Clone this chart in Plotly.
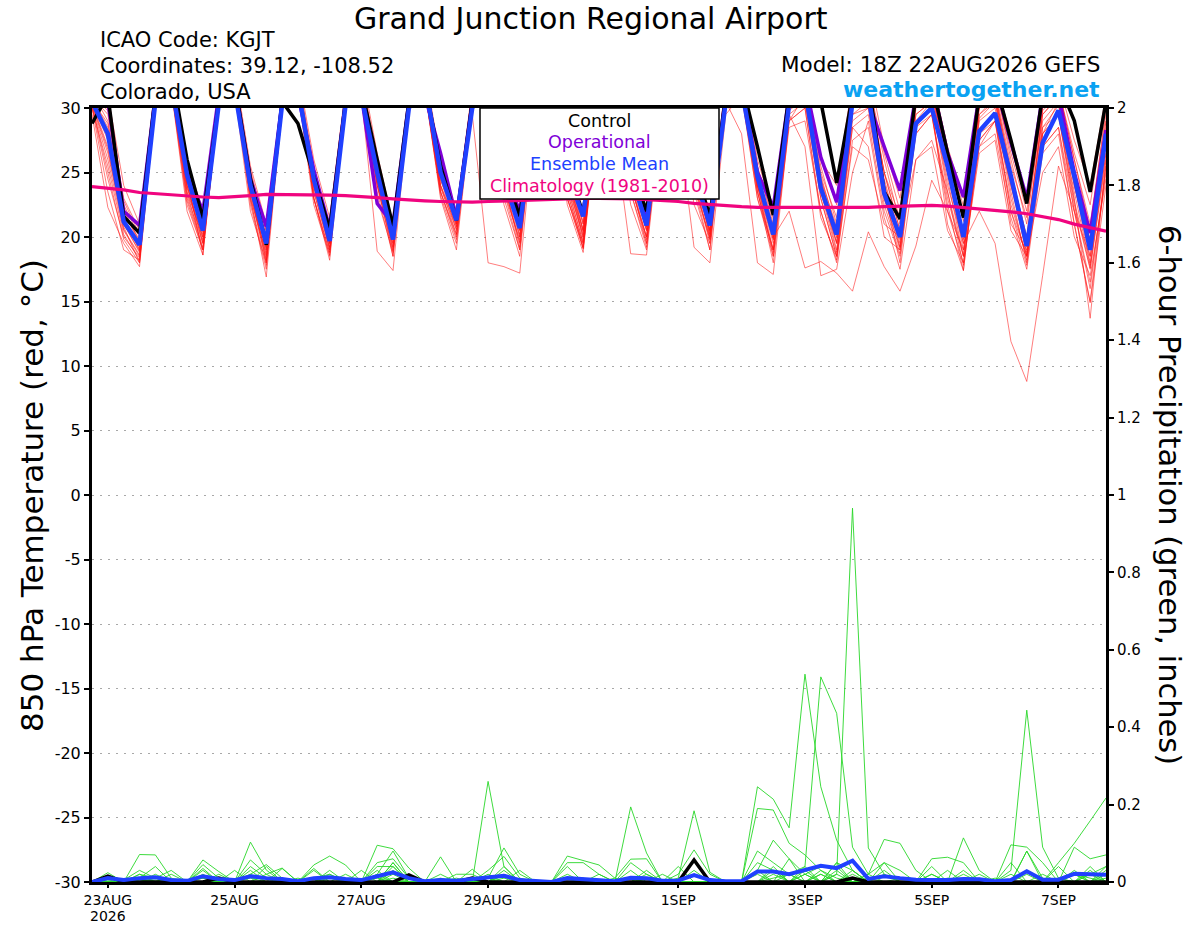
import pandas as pd
import plotly.graph_objects as go

# ---------------- time axis (GEFS 18Z 22AUG2026 run, 6-hourly, 384 h) ----------------
run_start = "2026-08-22 18:00"
n_steps = 65
times = pd.date_range(run_start, periods=n_steps, freq="6h")

tick_dates = ["2026-08-23", "2026-08-25", "2026-08-27", "2026-08-29",
              "2026-09-01", "2026-09-03", "2026-09-05", "2026-09-07"]
tick_labels = ["23AUG", "25AUG", "27AUG", "29AUG", "1SEP", "3SEP", "5SEP", "7SEP"]
year_label = "2026"

temp_ticks = [30, 25, 20, 15, 10, 5, 0, -5, -10, -15, -20, -25, -30]
temp_tick_labels = ["30", "25", "20", "15", "10", "5", "0", "-5", "-10", "-15", "-20", "-25", "-30"]
precip_ticks = [0, 0.2, 0.4, 0.6, 0.8, 1.0, 1.2, 1.4, 1.6, 1.8, 2.0]
precip_tick_labels = ["0", "0.2", "0.4", "0.6", "0.8", "1", "1.2", "1.4", "1.6", "1.8", "2"]

# ---------------- 850 hPa temperature (deg C) ----------------
# layout of each list: 18Z,00Z,06Z | then (12Z,18Z,00Z,06Z) x 15 days | 12Z,18Z
ens_mean_t = [30.5, 28.0, 21.2,
              19.4, 30.5, 32.0, 24.8, 20.5, 30.3, 31.5, 24.0, 19.5, 30.3, 31.5, 24.5,
              19.7, 30.2, 31.0, 25.0, 19.8, 30.0, 32.0, 25.0, 21.3, 30.0, 32.0, 24.5,
              20.7, 30.5, 32.0, 25.0, 21.6, 31.0, 32.0, 25.0, 20.9, 30.5, 32.0, 25.0,
              20.9, 30.5, 31.5, 24.7, 20.2, 30.3, 31.5, 23.8, 20.2, 30.5, 31.0, 23.4,
              20.0, 28.8, 30.0, 25.5, 20.0, 28.2, 29.6, 24.7, 19.3, 27.3, 29.8, 24.7,
              19.0, 28.0]
control_t = [28.8, 31.0, 21.6,
             20.3, 31.0, 33.0, 26.0, 21.4, 30.5, 32.0, 24.5, 19.4, 30.5, 28.8, 24.7,
             20.6, 30.5, 31.5, 26.0, 20.8, 30.5, 32.0, 25.5, 21.3, 30.5, 32.0, 25.0,
             21.6, 30.5, 32.0, 25.5, 21.8, 31.0, 32.0, 25.5, 22.0, 31.0, 32.0, 25.5,
             21.6, 31.0, 32.0, 27.0, 21.7, 31.0, 32.0, 30.5, 24.2, 31.0, 32.0, 23.5,
             21.4, 31.0, 32.0, 26.5, 21.5, 31.0, 32.0, 27.5, 22.6, 31.0, 32.0, 29.0,
             23.5, 30.5]
operational_t = [31.0, 30.5, 22.0,
                 20.9, 31.0, 32.0, 25.0, 22.0, 31.0, 32.0, 24.5, 20.8, 30.5, 31.0, 25.2,
                 20.7, 30.5, 31.0, 22.6, 21.0, 30.5, 31.0, 26.5, 21.5, 30.5, 32.0, 25.0,
                 22.0, 30.5, 32.0, 25.0, 21.8, 31.0, 32.0, 25.0, 21.5, 31.0, 32.0, 25.0,
                 21.3, 31.0, 32.0, 25.0, 22.3, 31.0, 32.0, 26.2, 22.7, 31.0, 30.5, 27.0,
                 23.6, 31.0, 32.0, 26.5, 23.1, 31.0, 32.0, 27.3, 23.0, 31.0, 31.0, 25.0,
                 20.3, 28.3]
climatology_t = [23.9, 23.8, 23.65,
                 23.45, 23.35, 23.25, 23.15, 23.1, 23.05, 23.1, 23.2, 23.3, 23.3, 23.3, 23.3,
                 23.25, 23.2, 23.15, 23.05, 22.95, 22.85, 22.8, 22.75, 22.7, 22.7, 22.75, 22.8,
                 22.85, 22.9, 22.95, 23.0, 23.0, 23.0, 23.0, 22.95, 22.9, 22.85, 22.75, 22.6,
                 22.5, 22.4, 22.35, 22.3, 22.3, 22.25, 22.25, 22.25, 22.25, 22.25, 22.3, 22.35,
                 22.4, 22.45, 22.45, 22.4, 22.3, 22.2, 22.1, 21.95, 21.8, 21.6, 21.35, 21.0,
                 20.7, 20.45]

t_m01 = [30.5, 27.5, 21.0, 18.8, 31.0, 32.5, 24.0, 19.8, 30.8, 32.0, 23.5, 18.5, 30.5, 31.5, 24.5,
         19.0, 30.6, 31.8, 25.0, 19.5, 30.2, 32.2, 24.0, 20.8, 30.4, 32.0, 25.5, 20.0, 30.8, 32.4, 24.0,
         20.2, 31.0, 32.0, 24.8, 20.5, 30.6, 31.5, 25.5, 20.0, 31.2, 31.8, 24.0, 19.5, 30.4, 31.0, 24.0,
         19.6, 30.8, 31.5, 23.0, 19.2, 29.0, 30.5, 25.0, 19.5, 29.5, 30.8, 24.0, 18.8, 28.5, 30.2, 24.5,
         18.5, 27.5]
t_m02 = [29.5, 22.3, 19.5, 17.7, 30.2, 31.5, 22.0, 18.6, 30.5, 31.8, 22.5, 17.5, 30.0, 32.0, 23.0,
         18.5, 30.4, 31.0, 24.0, 18.9, 30.8, 31.5, 23.5, 19.8, 30.2, 31.8, 24.0, 19.5, 30.6, 32.0, 23.0,
         19.1, 30.8, 31.5, 24.0, 19.8, 30.2, 31.0, 24.5, 19.5, 30.8, 31.5, 23.5, 18.8, 30.2, 30.5, 23.0,
         18.5, 29.5, 30.0, 22.5, 18.7, 28.5, 30.2, 24.5, 18.5, 29.0, 30.0, 23.0, 18.2, 28.0, 29.5, 23.5,
         17.8, 26.5]
t_m03 = [31.0, 30.0, 23.0, 20.5, 31.5, 33.0, 25.5, 21.2, 31.2, 32.5, 25.0, 20.5, 31.0, 32.4, 25.5,
         20.8, 31.2, 32.5, 26.0, 20.5, 31.0, 32.8, 25.5, 21.8, 31.2, 32.5, 26.5, 21.2, 31.5, 33.0, 25.5,
         21.0, 31.5, 32.8, 25.5, 21.5, 31.2, 32.5, 26.0, 21.3, 31.8, 32.5, 25.5, 21.0, 31.2, 32.0, 25.0,
         21.5, 31.5, 32.0, 26.0, 21.0, 31.0, 32.0, 26.5, 21.2, 31.2, 32.0, 26.0, 21.0, 30.5, 31.5, 26.0,
         20.5, 30.0]
t_m04 = [30.2, 26.0, 20.5, 18.5, 30.8, 32.0, 23.5, 20.0, 30.5, 31.5, 24.5, 19.0, 30.8, 32.0, 24.0,
         19.5, 30.5, 31.5, 24.5, 20.0, 30.6, 31.8, 25.0, 21.0, 30.8, 32.2, 24.5, 20.5, 30.5, 31.8, 25.0,
         20.0, 30.6, 32.0, 25.0, 21.0, 30.8, 32.0, 25.0, 20.5, 30.5, 31.5, 24.5, 20.0, 22.0, 17.6, 18.1,
         17.2, 15.8, 20.4, 17.7, 15.8, 19.3, 24.4, 22.0, 19.0, 27.0, 29.0, 24.0, 19.5, 28.0, 30.5, 24.0,
         19.0, 28.0]
t_m05 = [30.8, 28.5, 21.5, 19.0, 31.0, 32.2, 24.5, 20.2, 30.8, 32.0, 24.0, 19.0, 30.5, 31.8, 24.0,
         19.5, 30.8, 32.0, 24.5, 19.2, 30.5, 31.5, 25.0, 21.0, 30.8, 32.0, 25.0, 20.5, 30.6, 32.0, 24.5,
         20.0, 31.0, 32.2, 25.0, 20.8, 30.8, 31.8, 24.5, 20.5, 31.0, 32.0, 24.5, 20.2, 30.5, 31.5, 24.5,
         20.0, 30.5, 31.5, 24.5, 20.0, 29.5, 30.5, 24.0, 19.5, 22.0, 19.5, 11.9, 8.8, 17.0, 25.5, 22.0,
         18.5, 27.0]
t_m06 = [30.4, 27.0, 21.0, 18.9, 30.5, 32.0, 24.0, 19.5, 30.6, 31.8, 23.0, 18.8, 30.4, 31.5, 23.5,
         19.2, 30.5, 31.5, 24.0, 20.0, 30.6, 32.0, 24.5, 20.5, 29.5, 18.0, 17.7, 17.2, 30.0, 32.0, 24.0,
         19.5, 30.5, 31.8, 24.0, 20.0, 30.5, 31.5, 25.0, 20.2, 30.8, 31.8, 24.0, 19.8, 30.2, 31.0, 24.0,
         19.0, 30.0, 31.0, 24.0, 19.5, 30.0, 31.0, 25.0, 19.0, 29.5, 30.5, 24.5, 18.5, 29.0, 30.5, 23.0,
         13.7, 26.0]
t_m07 = [31.2, 29.0, 22.0, 19.5, 31.2, 32.5, 25.0, 21.0, 31.0, 32.2, 24.5, 20.0, 30.8, 32.0, 25.0,
         20.2, 31.0, 32.2, 25.0, 20.5, 30.8, 32.0, 25.5, 21.5, 31.0, 32.5, 25.0, 21.0, 31.0, 32.5, 25.5,
         20.5, 31.2, 32.5, 25.0, 21.0, 31.0, 32.0, 25.5, 21.0, 30.5, 28.0, 18.0, 17.1, 29.0, 31.0, 24.0,
         19.5, 30.2, 31.5, 25.0, 20.5, 30.5, 31.5, 25.5, 20.5, 30.0, 31.2, 25.0, 20.0, 29.5, 31.0, 25.0,
         19.5, 29.0]
t_m08 = [30.6, 28.0, 21.2, 19.2, 30.8, 32.0, 24.0, 20.0, 30.5, 31.6, 24.0, 19.2, 30.6, 32.0, 24.5,
         19.8, 30.8, 32.0, 24.5, 19.5, 30.5, 31.5, 24.0, 21.0, 30.6, 32.0, 24.0, 20.0, 30.5, 32.0, 24.5,
         19.8, 30.0, 28.0, 18.7, 18.6, 30.0, 31.5, 24.0, 20.0, 30.5, 31.5, 24.5, 19.8, 30.0, 31.0, 23.5,
         19.5, 28.5, 27.0, 20.0, 19.0, 28.0, 29.5, 23.0, 18.5, 27.5, 29.0, 21.0, 19.0, 27.0, 28.5, 22.0,
         16.5, 25.0]
t_m09 = [30.0, 25.5, 20.2, 18.2, 30.5, 31.8, 23.0, 19.2, 30.2, 31.5, 23.5, 18.0, 30.2, 31.5, 23.0,
         18.8, 30.4, 31.5, 24.0, 19.0, 30.2, 31.5, 23.5, 20.2, 30.5, 31.8, 23.5, 19.8, 30.2, 31.5, 23.0,
         19.5, 30.5, 31.5, 24.0, 20.0, 30.2, 29.0, 19.2, 18.0, 29.5, 31.0, 24.0, 19.0, 29.5, 30.5, 23.0,
         18.5, 29.0, 30.0, 23.5, 18.0, 28.5, 29.5, 22.5, 17.4, 28.0, 29.5, 22.0, 17.8, 27.0, 28.5, 21.0,
         15.0, 25.5]
t_m10 = [30.3, 26.5, 20.8, 18.0, 30.6, 31.8, 23.5, 19.0, 30.4, 31.5, 22.8, 17.8, 30.0, 31.2, 23.0,
         18.2, 30.2, 31.0, 18.9, 17.4, 30.0, 31.5, 23.5, 20.0, 30.2, 31.5, 23.5, 19.0, 30.5, 31.8, 23.5,
         19.2, 30.2, 31.5, 23.5, 19.5, 30.5, 31.5, 24.0, 19.8, 30.2, 31.2, 23.5, 19.0, 29.8, 30.8, 23.5,
         18.8, 29.5, 30.5, 24.0, 19.2, 29.5, 30.5, 23.5, 18.5, 29.2, 30.5, 23.5, 18.0, 28.0, 29.5, 22.5,
         17.5, 26.0]
t_m11 = [30.7, 28.2, 21.8, 19.8, 31.0, 32.2, 24.5, 18.6, 30.5, 31.5, 23.0, 16.9, 30.0, 31.5, 24.0,
         19.5, 30.6, 31.8, 24.5, 19.8, 30.5, 32.0, 25.0, 20.8, 30.5, 32.0, 24.5, 20.2, 30.8, 32.2, 25.0,
         20.5, 30.8, 32.0, 24.5, 20.5, 30.5, 31.8, 25.0, 20.2, 31.0, 32.0, 24.0, 20.5, 30.8, 31.5, 24.5,
         20.8, 30.5, 31.5, 25.0, 20.5, 30.8, 31.5, 25.0, 20.0, 30.5, 31.0, 24.5, 19.5, 30.0, 31.0, 24.0,
         19.0, 28.5]
t_m12 = [31.5, 31.0, 24.0, 21.0, 31.8, 33.2, 26.0, 22.0, 31.5, 33.0, 25.5, 21.0, 31.2, 32.8, 26.0,
         21.5, 31.5, 33.0, 26.5, 21.0, 31.2, 33.0, 26.0, 22.0, 31.5, 33.0, 27.0, 22.0, 31.8, 33.2, 26.0,
         21.8, 31.5, 33.0, 26.5, 22.0, 31.6, 33.0, 26.5, 21.8, 32.0, 33.0, 26.0, 22.0, 31.5, 32.5, 26.0,
         24.0, 32.0, 33.0, 27.0, 23.0, 31.5, 32.5, 27.0, 23.0, 31.5, 32.5, 27.0, 23.2, 31.2, 32.0, 27.5,
         24.0, 31.0]
t_m13 = [30.1, 24.5, 20.0, 18.4, 30.4, 31.6, 23.2, 19.5, 30.6, 31.8, 23.8, 18.2, 30.2, 31.6, 23.5,
         19.0, 30.4, 31.6, 24.2, 18.5, 30.2, 31.8, 24.0, 20.2, 30.5, 31.8, 24.2, 19.2, 30.4, 31.8, 23.5,
         19.2, 30.8, 31.8, 24.2, 19.5, 30.4, 31.2, 24.0, 19.0, 30.6, 31.6, 24.0, 18.5, 28.5, 29.0, 22.0,
         18.0, 27.5, 28.5, 21.5, 17.5, 26.0, 27.5, 23.5, 17.8, 27.0, 28.0, 21.5, 17.5, 26.5, 28.0, 21.0,
         14.9, 24.0]
t_m14 = [30.9, 29.5, 22.5, 20.0, 31.2, 32.8, 25.0, 21.5, 31.0, 32.4, 24.8, 20.0, 31.0, 32.2, 25.2,
         20.5, 31.0, 32.4, 25.5, 20.8, 30.8, 32.4, 25.5, 21.5, 31.0, 32.4, 26.0, 21.5, 31.2, 32.6, 25.0,
         21.0, 31.2, 32.5, 26.0, 21.2, 31.0, 32.2, 25.5, 21.5, 31.5, 32.4, 25.0, 20.8, 31.0, 31.8, 25.5,
         21.0, 31.0, 32.0, 25.0, 21.5, 30.5, 31.5, 26.0, 21.5, 30.5, 31.5, 25.5, 21.5, 30.0, 31.5, 26.0,
         21.0, 29.5]
t_m15 = [30.2, 25.0, 19.8, 18.0, 30.2, 31.5, 22.5, 19.0, 30.2, 31.5, 23.2, 18.2, 30.0, 31.2, 22.5,
         18.6, 30.2, 31.4, 23.5, 18.5, 30.0, 31.4, 23.2, 19.5, 30.2, 31.5, 23.0, 19.0, 30.2, 31.5, 22.5,
         18.8, 30.4, 31.5, 23.5, 19.2, 30.2, 31.0, 23.5, 19.0, 30.5, 31.2, 23.0, 18.5, 29.5, 27.0, 17.0,
         17.5, 25.0, 29.0, 22.0, 18.5, 28.0, 29.5, 22.0, 18.0, 27.5, 29.0, 22.5, 18.5, 27.5, 29.5, 22.0,
         16.0, 25.5]
t_m16 = [30.6, 28.8, 22.2, 19.6, 30.8, 32.4, 24.2, 20.8, 30.8, 32.2, 24.2, 19.6, 30.6, 32.0, 24.8,
         20.0, 30.8, 32.0, 25.2, 19.8, 30.8, 32.2, 24.8, 21.2, 30.8, 32.2, 25.2, 20.8, 31.0, 32.4, 24.6,
         20.6, 31.0, 32.2, 25.4, 20.8, 30.8, 32.0, 25.0, 20.6, 31.0, 32.2, 24.6, 20.4, 30.6, 31.6, 24.8,
         20.4, 30.6, 31.8, 24.2, 20.2, 30.5, 31.5, 25.5, 20.2, 30.2, 31.2, 25.0, 20.0, 29.8, 31.0, 24.8,
         19.8, 29.0]
t_m17 = [30.0, 23.5, 19.0, 18.2, 30.2, 31.6, 22.8, 19.0, 30.0, 31.2, 22.0, 18.0, 30.2, 31.4, 23.0,
         18.8, 30.0, 31.2, 23.0, 18.8, 30.2, 31.6, 23.0, 19.0, 30.2, 31.5, 22.5, 18.5, 30.4, 31.5, 23.0,
         19.1, 30.0, 31.0, 22.5, 19.0, 30.2, 31.0, 22.5, 19.5, 30.2, 31.0, 23.0, 19.0, 29.0, 30.0, 21.5,
         18.5, 27.0, 26.0, 21.0, 20.0, 26.0, 27.0, 20.5, 18.0, 26.5, 27.5, 20.5, 18.5, 25.0, 27.0, 20.0,
         17.0, 24.5]
t_m18 = [30.5, 27.8, 21.4, 19.0, 30.8, 32.2, 24.6, 20.4, 30.6, 32.0, 24.4, 19.4, 30.6, 31.8, 24.2,
         19.6, 30.8, 32.0, 25.0, 20.2, 30.6, 32.0, 24.4, 21.4, 30.8, 32.2, 25.4, 20.6, 30.8, 32.2, 24.6,
         20.4, 30.8, 32.0, 24.6, 20.6, 30.6, 31.8, 25.2, 20.4, 30.8, 31.8, 24.4, 20.0, 30.4, 31.4, 24.2,
         20.2, 30.4, 31.4, 23.8, 19.8, 30.2, 31.2, 25.0, 19.8, 30.0, 31.0, 24.2, 19.2, 29.5, 30.8, 24.2,
         18.0, 28.0]
t_m19 = [30.3, 26.8, 20.6, 18.6, 30.6, 32.0, 23.8, 19.6, 30.4, 31.8, 23.6, 18.6, 30.4, 31.8, 23.8,
         19.2, 30.6, 31.8, 24.4, 19.2, 30.4, 31.8, 23.8, 20.6, 30.6, 31.8, 24.0, 19.6, 30.6, 31.8, 23.8,
         19.6, 30.6, 31.8, 24.4, 20.0, 30.6, 31.6, 24.6, 19.8, 30.6, 31.6, 23.6, 18.0, 29.0, 30.0, 22.0,
         18.2, 28.5, 29.5, 23.0, 19.0, 29.0, 30.0, 21.0, 17.4, 28.0, 29.0, 22.0, 18.6, 28.5, 29.5, 22.8,
         17.6, 26.5]
t_m20 = [31.0, 29.8, 22.8, 20.2, 31.2, 32.6, 25.2, 21.4, 31.0, 32.4, 25.2, 20.4, 31.0, 32.4, 25.0,
         20.6, 31.0, 32.4, 25.6, 20.6, 31.0, 32.6, 25.2, 21.6, 31.2, 32.6, 25.8, 21.0, 31.2, 32.8, 25.4,
         21.2, 31.2, 32.6, 25.8, 21.6, 31.2, 32.4, 26.0, 21.2, 31.4, 32.6, 25.4, 21.4, 31.0, 32.0, 26.0,
         22.5, 31.0, 32.0, 26.5, 22.0, 31.0, 32.0, 26.5, 22.4, 30.8, 31.8, 26.5, 22.0, 30.5, 31.5, 26.5,
         22.5, 30.5]

# ---------------- 6-hour precipitation (inches) ----------------
ens_mean_p = [0, 0.01, 0.005,
              0.01, 0.012, 0.005, 0.003, 0.015, 0.008, 0.005, 0.015, 0.01, 0.008, 0.002, 0.01,
              0.012, 0.008, 0.005, 0.015, 0.025, 0.01, 0.002, 0.005, 0.003, 0.008, 0.013, 0.016,
              0.005, 0.002, 0.0, 0.01, 0.008, 0.005, 0.002, 0.011, 0.01, 0.003, 0.004, 0.018,
              0.005, 0.002, 0.002, 0.027, 0.027, 0.02, 0.031, 0.042, 0.036, 0.055, 0.008, 0.015,
              0.01, 0.006, 0.005, 0.005, 0.008, 0.007, 0.002, 0.005, 0.028, 0.006, 0.006, 0.021,
              0.02, 0.019]
control_p = [0, 0.015, 0,
             0, 0, 0, 0, 0, 0.01, 0, 0, 0, 0, 0, 0,
             0, 0, 0, 0, 0, 0.018, 0, 0, 0, 0.01, 0, 0,
             0, 0, 0, 0, 0, 0, 0, 0, 0, 0, 0, 0.057,
             0, 0, 0, 0, 0, 0, 0, 0, 0, 0.01, 0, 0,
             0, 0, 0, 0, 0, 0, 0, 0, 0, 0, 0, 0,
             0, 0]

p_m01 = [0, 0.024, 0, 0.071, 0.07, 0.01, 0, 0, 0, 0, 0.103, 0.031, 0, 0, 0,
         0, 0, 0, 0, 0, 0, 0, 0, 0, 0, 0.26, 0.04, 0, 0, 0, 0,
         0, 0, 0, 0, 0, 0, 0, 0, 0, 0, 0, 0.246, 0.214, 0.14, 0.537, 0.246,
         0.108, 0.03, 0, 0, 0, 0, 0, 0, 0, 0, 0, 0, 0.08, 0.01, 0, 0,
         0, 0]
p_m02 = [0, 0, 0.005, 0.03, 0.01, 0, 0, 0.057, 0.027, 0, 0, 0, 0, 0, 0,
         0, 0, 0, 0.095, 0.086, 0.036, 0, 0, 0, 0, 0, 0, 0, 0, 0, 0,
         0, 0, 0, 0.01, 0, 0, 0, 0, 0, 0, 0, 0, 0.01, 0.02, 0.04, 0.53,
         0.436, 0.09, 0.02, 0, 0, 0, 0, 0, 0, 0, 0.01, 0, 0, 0, 0, 0.02,
         0.01, 0]
p_m03 = [0, 0, 0, 0.01, 0.04, 0, 0, 0, 0, 0, 0.057, 0.02, 0.036, 0, 0,
         0, 0, 0, 0.02, 0.08, 0.01, 0, 0, 0, 0, 0.01, 0.088, 0.02, 0, 0, 0,
         0, 0, 0, 0.194, 0.075, 0, 0, 0, 0, 0, 0, 0, 0, 0, 0, 0,
         0.02, 0.966, 0.088, 0.02, 0, 0, 0, 0, 0, 0, 0, 0, 0, 0, 0, 0,
         0, 0.03]
p_m04 = [0, 0.01, 0, 0, 0, 0, 0, 0.045, 0.01, 0, 0, 0, 0, 0, 0.044,
         0.067, 0.044, 0, 0, 0, 0, 0, 0.065, 0, 0, 0, 0, 0, 0, 0, 0.067,
         0.055, 0.044, 0.01, 0, 0, 0, 0, 0, 0, 0, 0, 0.19, 0.186, 0.1, 0.07, 0.03,
         0.01, 0, 0, 0, 0, 0, 0, 0, 0, 0, 0, 0.03, 0.444, 0.09, 0.01, 0,
         0, 0]
p_m05 = [0, 0, 0, 0, 0.01, 0.03, 0, 0.035, 0, 0, 0.02, 0.045, 0.01, 0, 0,
         0, 0, 0, 0.05, 0.06, 0.01, 0, 0, 0, 0, 0.03, 0.066, 0.01, 0, 0, 0,
         0, 0, 0, 0, 0, 0, 0.01, 0.184, 0.025, 0, 0, 0, 0, 0, 0, 0,
         0, 0, 0.02, 0.11, 0.1, 0.03, 0, 0, 0, 0, 0, 0, 0, 0, 0, 0,
         0.02, 0.04]
p_m06 = [0, 0, 0, 0.02, 0.01, 0, 0, 0.03, 0, 0, 0.04, 0.01, 0, 0, 0.01,
         0.02, 0, 0, 0, 0.05, 0, 0, 0, 0, 0.033, 0, 0.02, 0, 0, 0, 0,
         0, 0, 0.01, 0.059, 0.06, 0, 0, 0, 0, 0, 0, 0.03, 0.108, 0.06, 0.02, 0,
         0.05, 0.03, 0, 0, 0, 0, 0.02, 0, 0.114, 0.03, 0, 0, 0, 0, 0, 0,
         0, 0.01]
p_m07 = [0, 0, 0, 0, 0.02, 0, 0, 0, 0, 0, 0, 0, 0.035, 0, 0.035,
         0, 0, 0, 0.04, 0.04, 0, 0, 0, 0, 0, 0, 0.03, 0, 0, 0, 0,
         0, 0, 0, 0, 0, 0, 0.02, 0.083, 0.02, 0, 0, 0.08, 0.05, 0.02, 0, 0,
         0, 0, 0, 0, 0, 0, 0.06, 0.064, 0.05, 0, 0, 0, 0, 0, 0.05, 0.1,
         0.158, 0.217]
p_m08 = [0, 0.01, 0, 0, 0, 0, 0, 0, 0.02, 0, 0, 0, 0, 0.01, 0,
         0.03, 0, 0, 0, 0, 0, 0, 0, 0, 0, 0, 0, 0, 0, 0, 0.05,
         0.05, 0.02, 0, 0.05, 0.02, 0, 0, 0, 0, 0, 0, 0.05, 0.03, 0, 0.02, 0.04,
         0.04, 0, 0, 0.03, 0, 0, 0, 0, 0, 0, 0, 0.096, 0.09, 0.05, 0, 0,
         0, 0]
p_m09 = [0, 0, 0, 0, 0, 0, 0, 0, 0, 0, 0.03, 0, 0, 0, 0,
         0, 0.02, 0, 0, 0.05, 0, 0, 0, 0, 0, 0.02, 0, 0, 0, 0, 0,
         0, 0, 0, 0, 0.03, 0, 0.04, 0, 0, 0, 0, 0, 0, 0, 0, 0,
         0, 0, 0.02, 0.05, 0.03, 0, 0.04, 0, 0, 0, 0, 0.05, 0, 0, 0, 0.09,
         0.06, 0.07]
p_m10 = [0, 0, 0, 0, 0, 0.02, 0, 0, 0, 0, 0, 0.04, 0, 0, 0.03,
         0, 0, 0, 0.03, 0, 0.02, 0, 0, 0, 0, 0, 0.04, 0, 0, 0, 0,
         0, 0.02, 0, 0.03, 0, 0, 0, 0.03, 0, 0, 0, 0, 0, 0, 0.04, 0,
         0, 0.03, 0, 0, 0, 0, 0, 0.03, 0, 0, 0, 0, 0.08, 0, 0.04, 0,
         0, 0]
p_m11 = [0, 0, 0, 0.02, 0, 0, 0, 0, 0, 0.03, 0, 0, 0, 0, 0,
         0.02, 0, 0, 0, 0.04, 0, 0, 0, 0.02, 0.02, 0, 0, 0.03, 0, 0, 0.04,
         0, 0, 0, 0, 0, 0, 0, 0, 0, 0, 0, 0, 0, 0.06, 0, 0,
         0.05, 0, 0, 0.05, 0, 0, 0, 0, 0.02, 0, 0, 0, 0.03, 0, 0, 0,
         0.04, 0]
p_m12 = [0, 0, 0, 0, 0.01, 0, 0, 0.02, 0, 0, 0, 0, 0.01, 0, 0,
         0, 0, 0.03, 0, 0, 0, 0, 0.01, 0, 0, 0, 0, 0, 0, 0, 0,
         0, 0, 0, 0, 0, 0.02, 0, 0, 0, 0, 0, 0, 0.03, 0, 0, 0.03,
         0, 0, 0, 0, 0, 0, 0, 0, 0, 0.02, 0, 0, 0, 0, 0, 0.03,
         0, 0.04]
p_m13 = [0, 0, 0, 0, 0, 0, 0, 0.01, 0, 0, 0, 0, 0, 0, 0,
         0, 0, 0, 0, 0.02, 0, 0, 0, 0, 0, 0, 0.01, 0, 0, 0, 0,
         0, 0, 0, 0, 0.02, 0, 0, 0, 0, 0, 0, 0, 0.04, 0, 0, 0.02,
         0, 0, 0, 0.02, 0, 0, 0, 0, 0, 0, 0, 0, 0.02, 0, 0, 0,
         0, 0]
p_m14 = [0, 0, 0, 0, 0.005, 0, 0, 0, 0, 0, 0, 0.02, 0, 0, 0,
         0, 0, 0, 0.02, 0, 0, 0, 0, 0, 0, 0, 0, 0, 0, 0, 0.02,
         0, 0, 0, 0, 0, 0, 0, 0, 0, 0, 0, 0.03, 0, 0, 0, 0,
         0.03, 0, 0, 0, 0, 0, 0.02, 0, 0, 0, 0, 0, 0, 0, 0, 0.02,
         0, 0]
p_m15 = [0, 0, 0, 0.01, 0, 0, 0, 0, 0, 0, 0.02, 0, 0, 0, 0,
         0, 0, 0, 0, 0.03, 0, 0, 0, 0, 0, 0.01, 0, 0, 0, 0, 0,
         0, 0, 0, 0, 0, 0, 0, 0.02, 0, 0, 0, 0, 0, 0, 0.03, 0,
         0, 0, 0, 0, 0, 0, 0, 0, 0.03, 0, 0, 0, 0, 0.02, 0, 0,
         0, 0]
p_m16 = [0, 0, 0, 0, 0, 0, 0, 0, 0, 0, 0, 0, 0, 0, 0,
         0.01, 0, 0, 0, 0, 0, 0, 0.02, 0, 0, 0, 0, 0, 0, 0, 0,
         0, 0, 0, 0.01, 0, 0, 0, 0, 0, 0, 0, 0, 0, 0.02, 0, 0,
         0, 0.02, 0, 0, 0, 0, 0, 0, 0, 0, 0, 0.02, 0, 0, 0, 0,
         0.03, 0]
p_m17 = [0, 0, 0, 0, 0, 0, 0, 0.01, 0, 0, 0, 0, 0, 0, 0.01,
         0, 0, 0, 0, 0, 0, 0, 0, 0, 0, 0, 0.02, 0, 0, 0, 0,
         0, 0, 0, 0, 0, 0, 0, 0, 0, 0, 0, 0, 0.02, 0, 0, 0,
         0, 0, 0.01, 0, 0, 0, 0, 0, 0, 0, 0, 0, 0.03, 0, 0, 0,
         0, 0.02]
p_m18 = [0, 0, 0, 0.005, 0, 0, 0, 0, 0, 0, 0, 0, 0, 0, 0,
         0, 0, 0, 0, 0.01, 0, 0, 0, 0, 0, 0, 0, 0, 0, 0, 0,
         0.01, 0, 0, 0, 0, 0, 0, 0, 0, 0, 0, 0, 0, 0, 0, 0.02,
         0, 0, 0, 0, 0, 0, 0, 0.01, 0, 0, 0, 0, 0, 0, 0, 0.02,
         0, 0]
p_m19 = [0, 0, 0, 0, 0, 0, 0, 0, 0, 0, 0.01, 0, 0, 0, 0,
         0, 0, 0, 0.01, 0, 0, 0, 0, 0, 0, 0, 0, 0, 0, 0, 0,
         0, 0, 0, 0, 0, 0, 0, 0, 0, 0, 0, 0.02, 0, 0, 0, 0,
         0.02, 0, 0, 0, 0, 0, 0, 0, 0, 0.01, 0, 0, 0, 0, 0, 0,
         0.02, 0]
p_m20 = [0, 0.005, 0, 0, 0, 0, 0, 0, 0, 0, 0, 0, 0, 0, 0,
         0, 0, 0, 0, 0, 0, 0, 0, 0.01, 0, 0, 0, 0, 0, 0, 0,
         0, 0, 0, 0, 0.01, 0, 0, 0, 0, 0, 0, 0, 0, 0, 0.02, 0,
         0, 0, 0, 0, 0.01, 0, 0, 0, 0, 0, 0, 0, 0, 0, 0.01, 0,
         0, 0]

temp_members = [t_m01, t_m02, t_m03, t_m04, t_m05, t_m06, t_m07, t_m08, t_m09, t_m10,
                t_m11, t_m12, t_m13, t_m14, t_m15, t_m16, t_m17, t_m18, t_m19, t_m20]
precip_members = [p_m01, p_m02, p_m03, p_m04, p_m05, p_m06, p_m07, p_m08, p_m09, p_m10,
                  p_m11, p_m12, p_m13, p_m14, p_m15, p_m16, p_m17, p_m18, p_m19, p_m20]

for s in temp_members + precip_members + [ens_mean_t, control_t, operational_t, climatology_t,
                                           ens_mean_p, control_p]:
    assert len(s) == n_steps, len(s)

# ---------------- styling ----------------
FONT = "DejaVu Sans, Liberation Sans, Arial, sans-serif"
RED = "rgba(255,20,20,0.62)"
GREEN = "rgb(40,215,40)"
BLACK = "#000000"
PURPLE = "#7f00d8"
BLUE = "#2040ff"
MAGENTA = "#f0047f"
SKY = "#0aa2f2"

fig = go.Figure()

for m in temp_members:
    fig.add_trace(go.Scatter(x=times, y=m, mode="lines", line=dict(color=RED, width=0.9),
                             yaxis="y", hoverinfo="skip"))
fig.add_trace(go.Scatter(x=times, y=operational_t, mode="lines", line=dict(color=PURPLE, width=3.5), yaxis="y"))
fig.add_trace(go.Scatter(x=times, y=control_t, mode="lines", line=dict(color=BLACK, width=3.5), yaxis="y"))
fig.add_trace(go.Scatter(x=times, y=ens_mean_t, mode="lines", line=dict(color=BLUE, width=4.5), yaxis="y"))
fig.add_trace(go.Scatter(x=times, y=climatology_t, mode="lines", line=dict(color=MAGENTA, width=3.2), yaxis="y"))

for m in precip_members:
    fig.add_trace(go.Scatter(x=times, y=m, mode="lines", line=dict(color=GREEN, width=0.9),
                             yaxis="y2", hoverinfo="skip"))
fig.add_trace(go.Scatter(x=times, y=control_p, mode="lines", line=dict(color=BLACK, width=3.5), yaxis="y2"))
fig.add_trace(go.Scatter(x=times, y=ens_mean_p, mode="lines", line=dict(color=BLUE, width=4), yaxis="y2"))

# plot area in pixels: x 92..1106, y 108..882
L, R, T, B = 92, 1106, 108, 882
W, H = 1200, 927


def px(xp):
    return (xp - L) / (R - L)


def py(yp):
    return (B - yp) / (B - T)


fig.update_layout(
    width=W, height=H,
    margin=dict(l=L, r=W - R, t=T, b=H - B, pad=0, autoexpand=False),
    paper_bgcolor="white", plot_bgcolor="white",
    showlegend=False,
    font=dict(family=FONT, color="black", size=15),
    xaxis=dict(type="date", range=[times[0], times[-1]], automargin=False,
               tickvals=tick_dates, ticktext=tick_labels,
               tickfont=dict(size=14, family=FONT),
               ticks="outside", ticklen=3, tickwidth=1.5, tickcolor="black",
               showgrid=False, zeroline=False,
               showline=True, linecolor="black", linewidth=3, mirror=True),
    yaxis=dict(range=[-30, 30], tickvals=temp_ticks, ticktext=temp_tick_labels, automargin=False,
               tickfont=dict(size=16, family=FONT),
               ticks="outside", ticklen=5, tickwidth=1.5, tickcolor="black",
               showgrid=True, gridcolor="#a8a8a8", gridwidth=1.3, griddash="2px,6px",
               zeroline=False, showline=True, linecolor="black", linewidth=3),
    yaxis2=dict(range=[0, 2], overlaying="y", side="right", automargin=False,
                tickvals=precip_ticks, ticktext=precip_tick_labels,
                tickfont=dict(size=15, family=FONT),
                ticks="outside", ticklen=5, tickwidth=1.5, tickcolor="black",
                showgrid=False, zeroline=False,
                showline=True, linecolor="black", linewidth=3),
)

# year under the first date tick
fig.add_annotation(text=year_label, xref="x", yref="paper", x=tick_dates[0], y=py(916),
                   xanchor="center", yanchor="middle", showarrow=False,
                   font=dict(size=14, family=FONT, color="black"))

# legend box (drawn over the data, attached to the top frame)
fig.add_shape(type="rect", xref="paper", yref="paper",
              x0=px(480), x1=px(719), y0=py(199), y1=1.0,
              line=dict(color="black", width=1.5), fillcolor="white", layer="above")
legend_items = [("Control", BLACK, 121), ("Operational", PURPLE, 142),
                ("Ensemble Mean", BLUE, 164), ("Climatology (1981-2010)", MAGENTA, 186)]
for txt, col, yc in legend_items:
    fig.add_annotation(text=txt, xref="paper", yref="paper", x=px(599.5), y=py(yc),
                       xanchor="center", yanchor="middle", showarrow=False,
                       font=dict(size=17.5, color=col, family=FONT))

# header texts
fig.add_annotation(text="Grand Junction Regional Airport", xref="paper", yref="paper",
                   x=px(591), y=py(18), xanchor="center", yanchor="middle", showarrow=False,
                   font=dict(size=30, family=FONT, color="black"))
for txt, yc in [("ICAO Code: KGJT", 40), ("Coordinates: 39.12, -108.52", 66), ("Colorado, USA", 92)]:
    fig.add_annotation(text=txt, xref="paper", yref="paper", x=px(98), y=py(yc),
                       xanchor="left", yanchor="middle", showarrow=False,
                       font=dict(size=21, family=FONT, color="black"))
fig.add_annotation(text="Model: 18Z 22AUG2026 GEFS", xref="paper", yref="paper", x=px(1102), y=py(64),
                   xanchor="right", yanchor="middle", showarrow=False,
                   font=dict(size=21.5, family=FONT, color="black"))
fig.add_annotation(text="<b>weathertogether.net</b>", xref="paper", yref="paper", x=px(1102), y=py(89),
                   xanchor="right", yanchor="middle", showarrow=False,
                   font=dict(size=22, family=FONT, color=SKY))

# axis titles
fig.add_annotation(text="850 hPa Temperature (red, °C)", xref="paper", yref="paper",
                   x=px(32), y=py(496), xanchor="center", yanchor="middle", textangle=-90,
                   showarrow=False, font=dict(size=31, family=FONT, color="black"))
fig.add_annotation(text="6-hour Precipitation (green, inches)", xref="paper", yref="paper",
                   x=px(1170), y=py(495), xanchor="center", yanchor="middle", textangle=90,
                   showarrow=False, font=dict(size=30.5, family=FONT, color="black"))

fig.write_html("out.html", config={"displayModeBar": False},
               post_script="document.body.style.margin='0px';document.body.style.overflow='hidden';")
